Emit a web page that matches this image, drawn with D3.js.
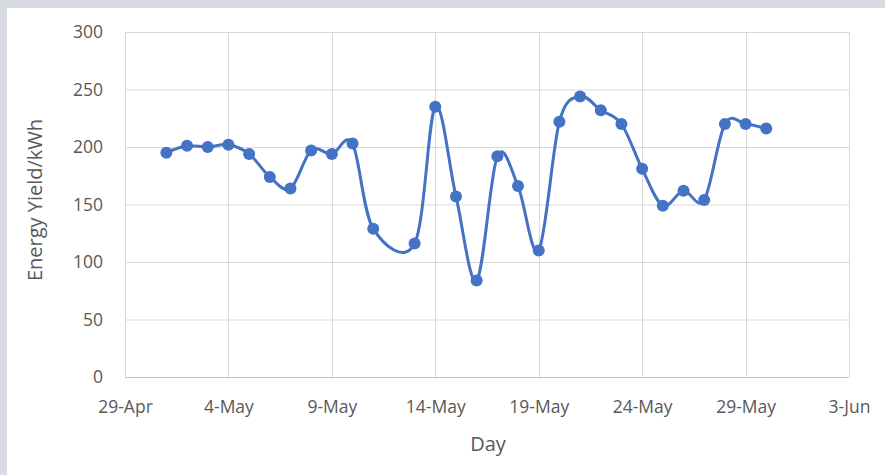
<!DOCTYPE html>
<html><head><meta charset="utf-8">
<script src="https://cdn.jsdelivr.net/npm/d3@7"></script>
<style>
html,body{margin:0;padding:0;background:#fff;}
svg{display:block;}
</style></head>
<body><svg id="c" width="885" height="475"></svg>
<script>
const days = ["2021-05-01","2021-05-02","2021-05-03","2021-05-04","2021-05-05","2021-05-06","2021-05-07","2021-05-08","2021-05-09","2021-05-10","2021-05-11","2021-05-13","2021-05-14","2021-05-15","2021-05-16","2021-05-17","2021-05-18","2021-05-19","2021-05-20","2021-05-21","2021-05-22","2021-05-23","2021-05-24","2021-05-25","2021-05-26","2021-05-27","2021-05-28","2021-05-29","2021-05-30"];
const yieldKWh = [195,201,200,202,194,174,164,197,194,203,129,116,235,157,84,192,166,110,222,244,232,220,181,149,162,154,220,220,216];
const xTicks = ["2021-04-29","2021-05-04","2021-05-09","2021-05-14","2021-05-19","2021-05-24","2021-05-29","2021-06-03"];
const yTicks = [0,50,100,150,200,250,300];
const yTitle = "Energy Yield/kWh";
const xTitle = "Day";
const months = ["Jan","Feb","Mar","Apr","May","Jun","Jul","Aug","Sep","Oct","Nov","Dec"];

const parse = d3.utcParse("%Y-%m-%d");
const fmt = d => d.getUTCDate() + "-" + months[d.getUTCMonth()];
const data = days.map((d,i)=>({x:parse(d), y:yieldKWh[i]}));

const svg = d3.select("#c");
svg.append("rect").attr("width",885).attr("height",475).attr("fill","#d9dbe4");
svg.append("rect").attr("x",7).attr("y",8).attr("width",878).attr("height",467).attr("fill","#fff");

const L=125, R=849, T=32, B=377;
const x = d3.scaleUtc().domain([parse(xTicks[0]), parse(xTicks[xTicks.length-1])]).range([L,R]);
const y = d3.scaleLinear().domain([0,300]).range([B,T]);

const font = "'Open Sans', 'Liberation Sans', sans-serif";
const grid = "#d9d9d9";
const txt = "#595959";

// gridlines
svg.append("g").selectAll("line").data(yTicks).join("line")
  .attr("x1",L).attr("x2",R).attr("y1",d=>y(d)+0.5).attr("y2",d=>y(d)+0.5)
  .attr("stroke",d=>d===0?"#bfbfbf":grid).attr("stroke-width",1);
svg.append("g").selectAll("line").data(xTicks).join("line")
  .attr("y1",T).attr("y2",B).attr("x1",d=>Math.round(x(parse(d)))+0.5).attr("x2",d=>Math.round(x(parse(d)))+0.5)
  .attr("stroke",grid).attr("stroke-width",1);

// axes (labels only)
const yAxis = d3.axisLeft(y).tickValues(yTicks).tickSize(0).tickPadding(22);
const gy = svg.append("g").attr("transform",`translate(${L},0)`).call(yAxis);
gy.select(".domain").remove();
gy.selectAll("text").attr("font-family",font).attr("font-size",17.5).attr("fill",txt);

const xAxis = d3.axisBottom(x).tickValues(xTicks.map(parse)).tickFormat(fmt).tickSize(0).tickPadding(24);
const gx = svg.append("g").attr("transform",`translate(0,${B})`).call(xAxis);
gx.select(".domain").remove();
gx.selectAll("text").attr("font-family",font).attr("font-size",17.5).attr("fill",txt);

// titles
svg.append("text").attr("x",488).attr("y",451).attr("text-anchor","middle")
  .attr("font-family",font).attr("font-size",20).attr("fill",txt).text(xTitle);
svg.append("text").attr("transform",`translate(42,200) rotate(-90)`).attr("text-anchor","middle")
  .attr("font-family",font).attr("font-size",20).attr("fill",txt).text(yTitle);

// line
const color = "#4472c4";
const line = d3.line().x(d=>x(d.x)).y(d=>y(d.y)).curve(d3.curveCatmullRom.alpha(0));
svg.append("path").datum(data).attr("d",line).attr("fill","none")
  .attr("stroke",color).attr("stroke-width",3).attr("stroke-linejoin","round");
svg.append("g").selectAll("circle").data(data).join("circle")
  .attr("cx",d=>x(d.x)).attr("cy",d=>y(d.y)).attr("r",6).attr("fill",color);
</script></body></html>
